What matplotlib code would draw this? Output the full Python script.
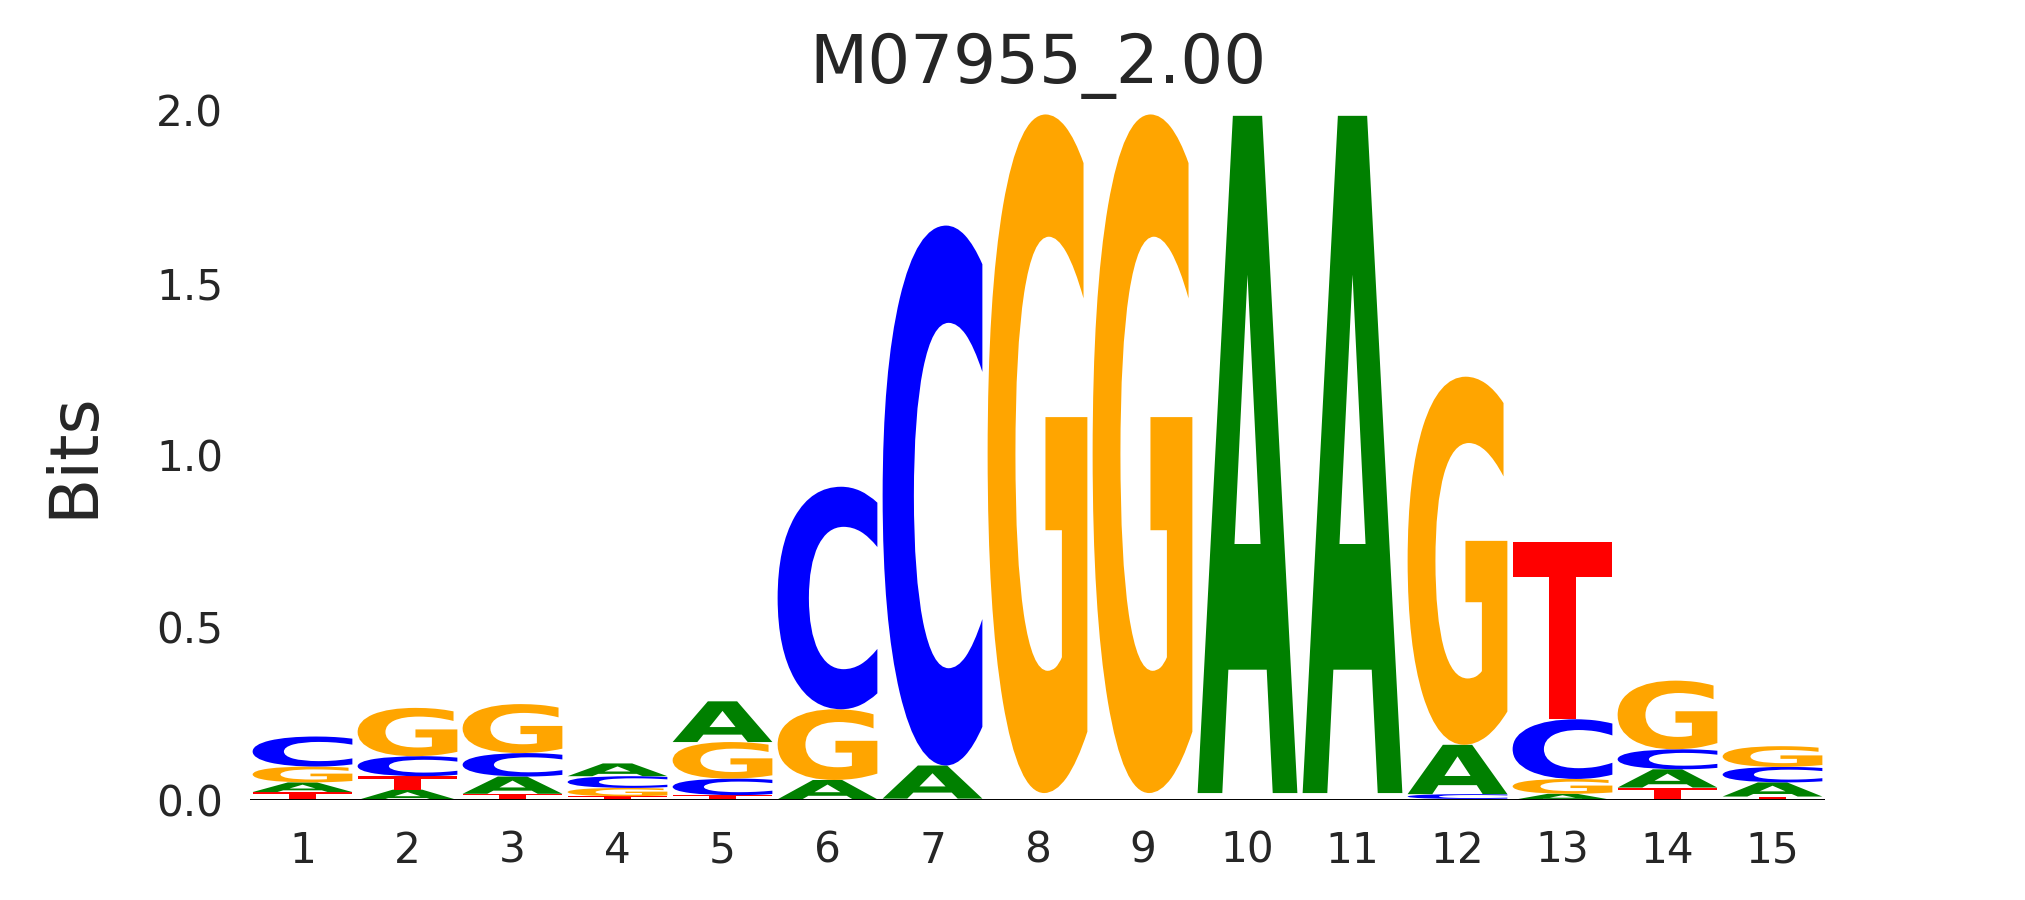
import numpy as np
import matplotlib
matplotlib.use('Agg')
import matplotlib.pyplot as plt
from matplotlib.textpath import TextPath
from matplotlib.patches import PathPatch
from matplotlib.font_manager import FontProperties
import matplotlib.transforms as mtransforms


title = 'M07955_2.00'
positions = list(range(1, 16))
letters = ['A', 'C', 'G', 'T']
letter_colors = {'A': '#008000', 'C': '#0000ff', 'G': '#ffa500', 'T': '#ff0000'}

# information content (bits) per letter at each position
bits_a = [0.028, 0.030, 0.050, 0.037, 0.118, 0.056, 0.096, 0.0067, 0.0067, 1.963, 1.963, 0.143, 0.018, 0.053, 0.041]
bits_c = [0.087, 0.058, 0.068, 0.034, 0.048, 0.645, 1.565, 0.0067, 0.0067, 0.0067, 0.0067, 0.014, 0.173, 0.058, 0.045]
bits_g = [0.046, 0.140, 0.142, 0.024, 0.106, 0.205, 0.002, 1.967, 1.967, 0.0067, 0.0067, 1.067, 0.043, 0.199, 0.060]
bits_t = [0.023, 0.039, 0.018, 0.011, 0.014, 0.002, 0.002, 0.0067, 0.0067, 0.0067, 0.0067, 0.003, 0.513, 0.036, 0.010]

text_color = '#262626'
glyph_font = FontProperties(family='DejaVu Sans', weight='bold')


def draw_letter(ax, char, x, floor, height, width, color):
    path = TextPath((0, 0), char, size=1, prop=glyph_font)
    bb = path.get_extents()
    trans = (mtransforms.Affine2D()
             .translate(-bb.x0, -bb.y0)
             .scale(width / bb.width, height / bb.height)
             .translate(x - width / 2.0, floor))
    patch = PathPatch(trans.transform_path(path), facecolor=color, edgecolor='none', lw=0)
    ax.add_patch(patch)


fig = plt.figure(figsize=(10, 900 / 202.5))
ax = fig.add_axes([250 / 2025, 100 / 900, 1575 / 2025, 690 / 900])

table = {'A': bits_a, 'C': bits_c, 'G': bits_g, 'T': bits_t}
for i, pos in enumerate(positions):
    vals = sorted([(table[l][i], l) for l in letters])
    floor = 0.0
    for v, l in vals:
        if v >= 0.008:
            draw_letter(ax, l, pos, floor, v, 0.95, letter_colors[l])
        floor += v

ax.axhline(0, color='black', lw=0.7, zorder=5)
ax.set_xlim(0.5, 15.5)
ax.set_ylim(0, 2.0)
ax.set_xticks(positions)
ax.set_xticklabels([str(p) for p in positions])
ax.set_yticks([0.0, 0.5, 1.0, 1.5, 2.0])
ax.set_yticklabels(['0.0', '0.5', '1.0', '1.5', '2.0'])
ax.tick_params(axis='both', length=0, labelsize=15, labelcolor=text_color)
ax.tick_params(axis='x', pad=10.5)
ax.tick_params(axis='y', pad=9.5)
for s in ax.spines.values():
    s.set_visible(False)
ax.set_ylabel('Bits', fontsize=24, color=text_color, labelpad=17.5)
ax.set_title(title, fontsize=24, color=text_color, pad=9.5)

fig.savefig('out.png', dpi=202.5)
